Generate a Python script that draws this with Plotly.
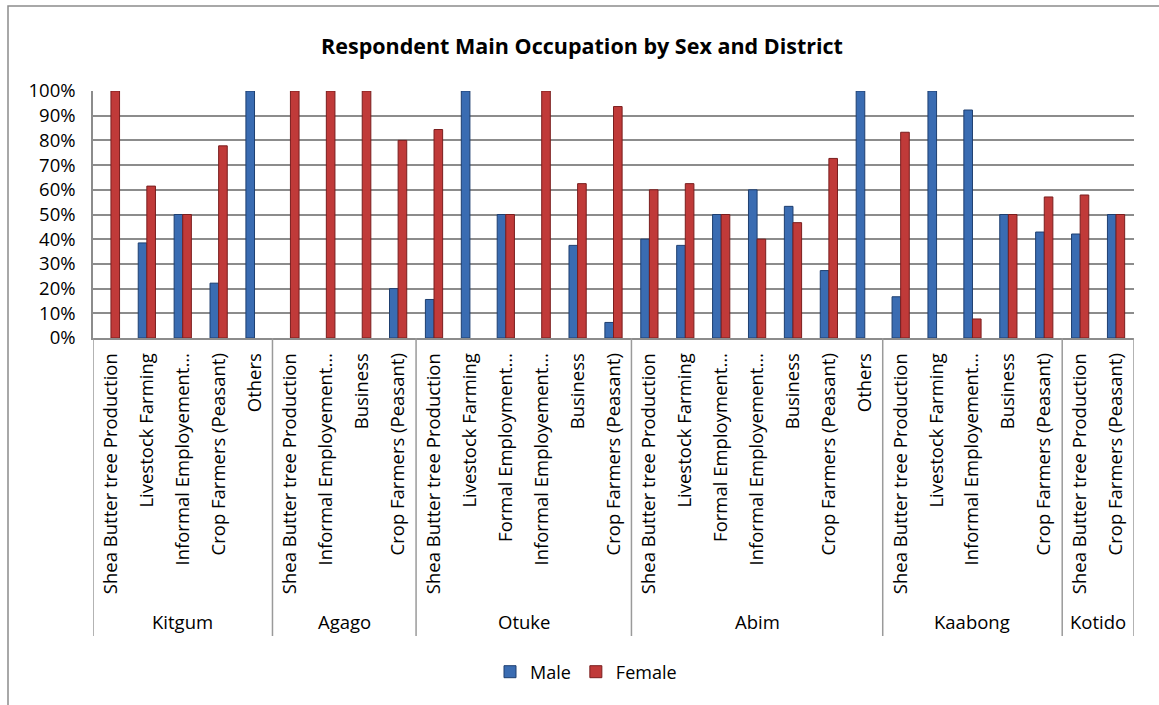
import plotly.graph_objects as go

# ---- data ----
districts = ["Kitgum", "Agago", "Otuke", "Abim", "Kaabong", "Kotido"]
kitgum_occ = ["Shea Butter tree Production", "Livestock Farming", "Informal Employement…",
              "Crop Farmers (Peasant)", "Others"]
agago_occ = ["Shea Butter tree Production", "Informal Employement…", "Business",
             "Crop Farmers (Peasant)"]
otuke_occ = ["Shea Butter tree Production", "Livestock Farming", "Formal Employment…",
             "Informal Employement…", "Business", "Crop Farmers (Peasant)"]
abim_occ = ["Shea Butter tree Production", "Livestock Farming", "Formal Employment…",
            "Informal Employement…", "Business", "Crop Farmers (Peasant)", "Others"]
kaabong_occ = ["Shea Butter tree Production", "Livestock Farming", "Informal Employement…",
               "Business", "Crop Farmers (Peasant)"]
kotido_occ = ["Shea Butter tree Production", "Crop Farmers (Peasant)"]

male = [0, 38.5, 50, 22.2, 100,
        0, 0, 0, 20,
        15.6, 100, 50, 0, 37.5, 6.3,
        40, 37.5, 50, 60, 53.3, 27.3, 100,
        16.7, 100, 92.3, 50, 42.9,
        42.1, 50]
female = [100, 61.5, 50, 77.8, 0,
          100, 100, 100, 80,
          84.4, 0, 50, 100, 62.5, 93.7,
          60, 62.5, 50, 40, 46.7, 72.7, 0,
          83.3, 0, 7.7, 50, 57.1,
          57.9, 50]
y_ticks = [0, 10, 20, 30, 40, 50, 60, 70, 80, 90, 100]

# ---- build ----
groups = [kitgum_occ, agago_occ, otuke_occ, abim_occ, kaabong_occ, kotido_occ]
labels = [o for g in groups for o in g]
pos = list(range(len(labels)))
male_f = [v / 100 if v > 0 else None for v in male]
female_f = [v / 100 if v > 0 else None for v in female]

W, H = 1159, 705
L, R, T, B = 93, 1134, 91, 338
ph = B - T
pw = R - L


def py(p):  # pixel y -> paper y
    return (B - p) / ph


def px(p):  # pixel x -> paper x
    return (p - L) / pw


FONT = "Open Sans"
fig = go.Figure()
fig.add_trace(go.Bar(x=pos, y=male_f, name="Male",
                     marker=dict(color="#3A6CB2", line=dict(color="#1E3F70", width=1))))
fig.add_trace(go.Bar(x=pos, y=female_f, name="Female",
                     marker=dict(color="#C03A39", line=dict(color="#7A1E1E", width=1))))

shapes = []
annotations = []
# outer chart border
shapes.append(dict(type="rect", xref="paper", yref="paper",
                   x0=px(8), x1=px(1170), y0=py(715), y1=py(6),
                   line=dict(color="#8C8C8C", width=1.5), fillcolor="rgba(0,0,0,0)", layer="below"))
start = 0
for d, g in zip(districts, groups):
    end = start + len(g)
    shapes.append(dict(type="line", xref="x", yref="paper",
                       x0=start - 0.5, x1=start - 0.5, y0=0, y1=py(636),
                       line=dict(color="#9A9A9A", width=1.5)))
    annotations.append(dict(x=(start + end - 1) / 2, y=py(622), xref="x", yref="paper",
                            text=d, showarrow=False, xanchor="center", yanchor="middle",
                            font=dict(family=FONT, size=18.5, color="#000")))
    start = end
shapes.append(dict(type="line", xref="x", yref="paper",
                   x0=start - 0.5, x1=start - 0.5, y0=0, y1=py(636),
                   line=dict(color="#9A9A9A", width=1.5)))

fig.update_layout(
    width=W, height=H,
    margin=dict(l=L, r=W - R, t=T, b=H - B, autoexpand=False),
    paper_bgcolor="white", plot_bgcolor="white",
    barmode="group", bargap=0.52, bargroupgap=0,
    title=dict(text="<b>Respondent Main Occupation by Sex and District</b>",
               x=582 / W, xanchor="center", y=1 - 46 / H, yanchor="middle",
               xref="container", yref="container",
               font=dict(family=FONT, size=21.5, color="#000")),
    xaxis=dict(range=[-0.5, len(labels) - 0.5], tickmode="array", tickvals=pos, ticktext=labels,
               tickangle=-90, showgrid=False, zeroline=False, showline=True,
               linecolor="#8C8C8C", linewidth=1.5, ticks="", automargin=False,
               ticklabelstandoff=6,
               tickfont=dict(family=FONT, size=18.5, color="#000")),
    yaxis=dict(range=[0, 1], tickmode="array", tickvals=[v / 100 for v in y_ticks],
               ticktext=[f"{v}%" for v in y_ticks], showgrid=True, gridcolor="#8C8C8C",
               gridwidth=1.5, zeroline=False, showline=True, linecolor="#8C8C8C",
               linewidth=1.5, ticks="", automargin=False, ticklabelstandoff=12,
               tickfont=dict(family=FONT, size=18.5, color="#000")),
    legend=dict(orientation="h", x=px(586), y=py(672), xanchor="center", yanchor="middle",
                font=dict(family=FONT, size=18, color="#000"), itemwidth=30,
                traceorder="normal"),
    shapes=shapes, annotations=annotations,
)

fig.write_html("out.html")
